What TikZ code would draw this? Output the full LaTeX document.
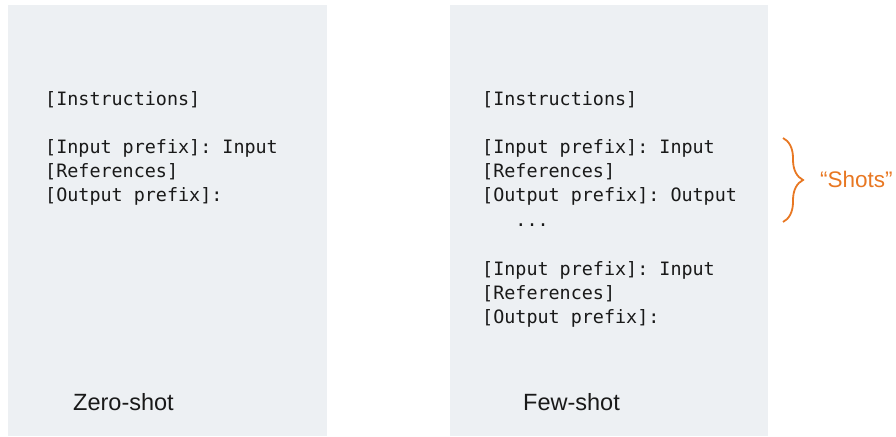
\documentclass[tikz,border=0pt]{standalone}
\usepackage{fontspec}
\setmainfont{Liberation Sans}
\setmonofont{DejaVu Sans Mono}
\usetikzlibrary{decorations.pathreplacing}
\definecolor{panelgray}{RGB}{237,240,243}
\definecolor{shotorange}{RGB}{232,119,34}
\tikzset{
  panel/.style={fill=panelgray, draw=none},
  codeline/.style={anchor=base west, inner sep=0pt, font=\ttfamily\fontsize{18.4}{22}\selectfont, text=black!90},
  caption/.style={anchor=base west, inner sep=0pt, font=\fontsize{23.5}{28}\selectfont, text=black!90},
  shotlabel/.style={anchor=base west, inner sep=0pt, font=\fontsize{22.5}{27}\selectfont, text=shotorange},
  shotbrace/.style={draw=shotorange, line width=1.8pt, decorate, decoration={brace, amplitude=20pt}},
}
\begin{document}
\begin{tikzpicture}[x=1pt, y=-1pt]
\useasboundingbox (0,0) rectangle (896,436);
% panels
\fill[panel] (8,5) rectangle (327,436);
\fill[panel] (450,5) rectangle (768,436);

% zero-shot prompt
\node[codeline] (zi) at (45,105) {[Instructions]};
\node[codeline] (zin) at (45,153) {[Input prefix]: Input};
\node[codeline] (zref) at (45,177) {[References]};
\node[codeline] (zout) at (45,201) {[Output prefix]:};
\node[caption] (zcap) at (73,410) {Zero-shot};

% few-shot prompt
\node[codeline] (fi) at (482,105) {[Instructions]};
\node[codeline] (fin1) at (482,153) {[Input prefix]: Input};
\node[codeline] (fref1) at (482,177) {[References]};
\node[codeline] (fout1) at (482,201) {[Output prefix]: Output};
\node[codeline] (fdots) at (482,226) {\ \ \ ...};
\node[codeline] (fin2) at (482,275) {[Input prefix]: Input};
\node[codeline] (fref2) at (482,299) {[References]};
\node[codeline] (fout2) at (482,323) {[Output prefix]:};
\node[caption] (fcap) at (523,410) {Few-shot};

% brace marking the demonstrations
\coordinate (btop) at (783,138);
\coordinate (bbot) at (783,222);
\draw[shotbrace] (btop) -- (bbot);
\node[shotlabel] (shots) at (820,187) {“Shots”};
\end{tikzpicture}
\end{document}
